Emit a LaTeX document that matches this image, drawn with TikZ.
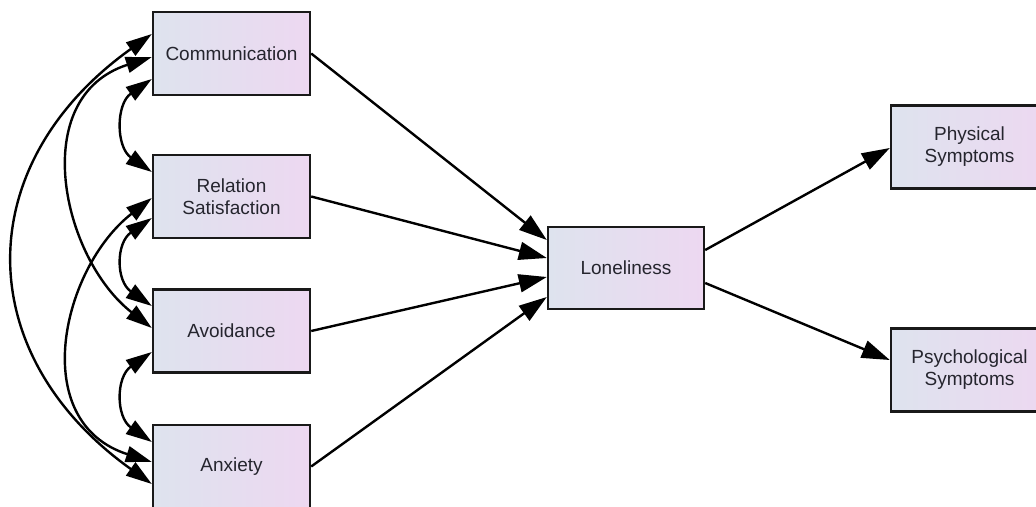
\documentclass[tikz,border=0pt]{standalone}
\usepackage{fontspec}
\setmainfont{Liberation Sans}
\usetikzlibrary{arrows.meta,calc}
\definecolor{boxleft}{HTML}{DEE3EE}
\definecolor{boxright}{HTML}{EDD8F1}
\definecolor{txt}{HTML}{25252E}
\tikzset{
  var/.style={draw=black!90, line width=2.4pt, left color=boxleft, right color=boxright,
    minimum width=157pt, minimum height=83pt, inner sep=0pt, align=center,
    text=txt, font=\fontsize{19}{22}\selectfont},
  path/.style={line width=2.4pt, -{Triangle[length=28pt,width=18pt]}},
  cov/.style={line width=2.4pt, {Triangle[length=26pt,width=16pt]}-{Triangle[length=26pt,width=16pt]}}
}
\begin{document}
\begin{tikzpicture}[x=1pt,y=-1pt]
\clip (0,0) rectangle (1036,506);
\fill[white] (0,0) rectangle (1036,506);
\node[var] (comm) at (231.5,53.5) {Communication};
\node[var] (rel) at (231.5,196.5) {Relation\\Satisfaction};
\node[var] (avoid) at (231.5,331) {Avoidance};
\node[var] (anx) at (231.5,466.5) {Anxiety};
\node[var, minimum width=156pt, minimum height=82pt] (lone) at (626,268) {Loneliness};
\node[var] (phys) at (969.5,147) {Physical\\Symptoms};
\node[var] (psych) at (969.5,370) {Psychological\\Symptoms};
% direct paths
\draw[path] (comm.east) -- ($(lone.west)+(0,-28)$);
\draw[path] (rel.east) -- ($(lone.west)+(0,-10)$);
\draw[path] (avoid.east) -- ($(lone.west)+(0,9)$);
\draw[path] (anx.east) -- ($(lone.west)+(0,29)$);
\draw[path] ($(lone.east)+(0,-18)$) -- ($(phys.west)+(0,1)$);
\draw[path] ($(lone.east)+(0,15)$) -- ($(psych.west)+(0,-10)$);
% covariances
\draw[cov] ($(comm.west)+(0,-19.5)$) .. controls +(-182,130) and +(-182,-130) .. ($(anx.west)+(0,17.5)$);
\draw[cov] ($(comm.west)+(0,3.5)$) .. controls +(-125,40) and +(-90,-70) .. ($(avoid.west)+(0,-3)$);
\draw[cov] ($(rel.west)+(0,1.5)$) .. controls +(-90,70) and +(-125,-40) .. ($(anx.west)+(0,-4.5)$);
\draw[cov] ($(comm.west)+(0,25.5)$) .. controls +(-36,25) and +(-36,-25) .. ($(rel.west)+(0,-24.5)$);
\draw[cov] ($(rel.west)+(0,21.5)$) .. controls +(-36,25) and +(-36,-25) .. ($(avoid.west)+(0,-25)$);
\draw[cov] ($(avoid.west)+(0,21)$) .. controls +(-36,25) and +(-36,-25) .. ($(anx.west)+(0,-24.5)$);
\end{tikzpicture}
\end{document}
